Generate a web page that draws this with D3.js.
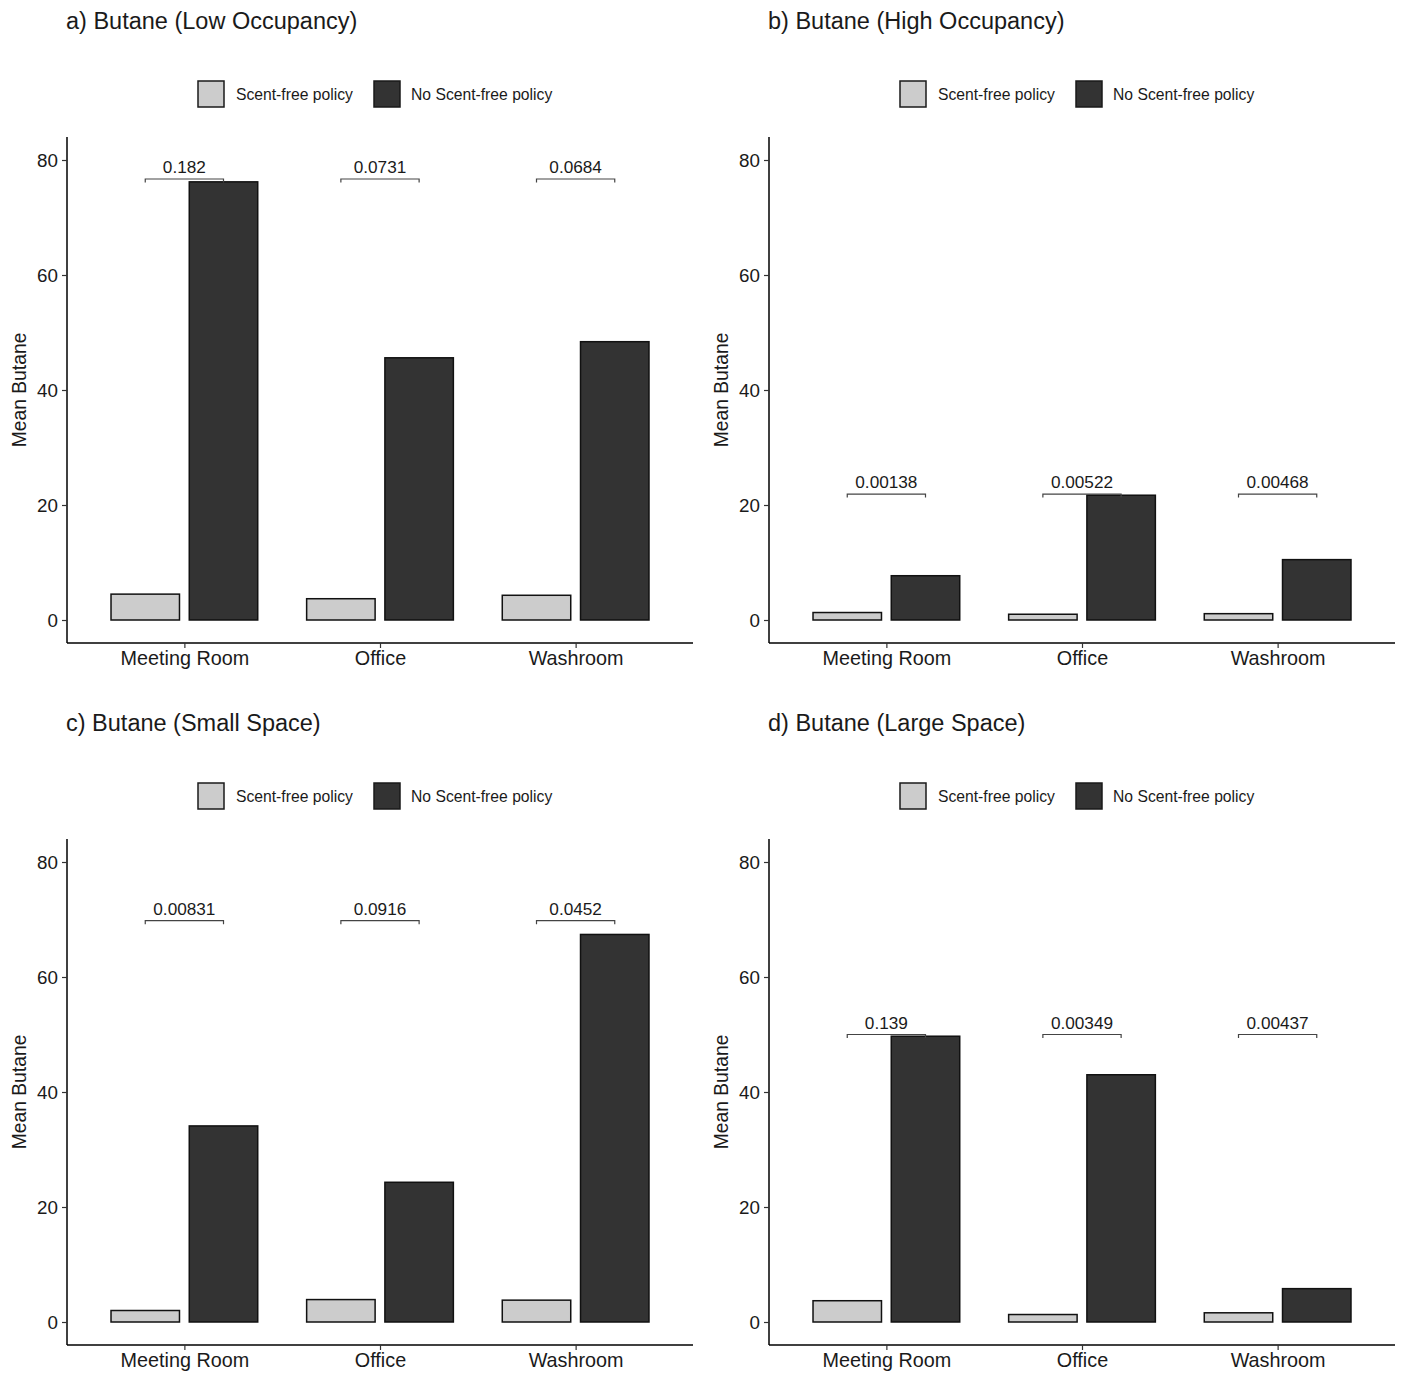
<!DOCTYPE html>
<html>
<head>
<meta charset="utf-8">
<script src="https://cdn.jsdelivr.net/npm/d3@7"></script>
<style>
  html, body { margin: 0; padding: 0; background: #fff; }
  svg { display: block; font-family: "Liberation Sans", Arial, sans-serif; }
</style>
</head>
<body>
<svg id="chart" width="1409" height="1385"></svg>
<script>
// ---- Data ----
const categories = ["Meeting Room", "Office", "Washroom"];
const groups = ["Scent-free policy", "No Scent-free policy"];
const panelTitles = [
  "a) Butane (Low Occupancy)",
  "b) Butane (High Occupancy)",
  "c) Butane (Small Space)",
  "d) Butane (Large Space)"
];
const scentFree = [
  [4.5, 3.7, 4.3],
  [1.3, 1.0, 1.1],
  [2.0, 3.9, 3.8],
  [3.7, 1.3, 1.6]
];
const noScentFree = [
  [76.2, 45.6, 48.4],
  [7.7, 21.7, 10.5],
  [34.1, 24.3, 67.4],
  [49.7, 43.0, 5.8]
];
const pValues = [
  ["0.182", "0.0731", "0.0684"],
  ["0.00138", "0.00522", "0.00468"],
  ["0.00831", "0.0916", "0.0452"],
  ["0.139", "0.00349", "0.00437"]
];
const bracketY = [76.7, 21.9, 69.8, 50.0];
const yTicks = [0, 20, 40, 60, 80];
const yLabel = "Mean Butane";

// ---- Layout ----
const fills = ["#cccccc", "#333333"];
const panelOffsets = [[0, 0], [702, 0], [0, 702], [702, 702]];
const plot = { left: 67, right: 693, top: 137, bottom: 643 };
const FONT = "Liberation Sans, Arial, sans-serif";

const svg = d3.select("#chart");

// ggplot-like discrete expansion: 0.6 units on each side
const unit = (plot.right - plot.left) / (categories.length - 1 + 1.2);
const xc = c => plot.left + unit * (0.6 + categories.indexOf(c));
const y = d3.scaleLinear().domain([-4, 84]).range([plot.bottom, plot.top]);

panelOffsets.forEach((off, p) => {
  const g = svg.append("g").attr("transform", `translate(${off[0]},${off[1]})`);

  // title
  g.append("text").attr("x", 66).attr("y", 29)
    .attr("font-size", 23.5).attr("fill", "#1a1a1a").text(panelTitles[p]);

  // legend
  const lg = g.append("g");
  const legItems = [{x: 198, tx: 236}, {x: 374, tx: 411}];
  groups.forEach((name, i) => {
    lg.append("rect").attr("x", legItems[i].x).attr("y", 81)
      .attr("width", 26).attr("height", 26)
      .attr("fill", fills[i]).attr("stroke", "#1a1a1a").attr("stroke-width", 1.5);
    lg.append("text").attr("x", legItems[i].tx).attr("y", 99.5)
      .attr("font-size", 15.7).attr("fill", "#1a1a1a").text(name);
  });

  // bars
  const bw = unit * 0.35;
  categories.forEach((c, ci) => {
    const vals = [scentFree[p][ci], noScentFree[p][ci]];
    vals.forEach((v, gi) => {
      const cx = xc(c) + (gi === 0 ? -0.2 : 0.2) * unit;
      g.append("rect")
        .attr("x", cx - bw / 2).attr("width", bw)
        .attr("y", y(v)).attr("height", y(0) - y(v))
        .attr("fill", fills[gi]).attr("stroke", "#111").attr("stroke-width", 1.5);
    });
    // significance bracket
    const x1 = xc(c) - 0.2 * unit, x2 = xc(c) + 0.2 * unit;
    const by = y(bracketY[p]);
    g.append("path")
      .attr("d", `M${x1},${by + 3.5}V${by}H${x2}V${by + 3.5}`)
      .attr("fill", "none").attr("stroke", "#444").attr("stroke-width", 1.2);
    g.append("text").attr("x", xc(c)).attr("y", by - 6)
      .attr("text-anchor", "middle").attr("font-size", 17.2).attr("fill", "#1a1a1a")
      .text(pValues[p][ci]);
  });

  // axes
  const yAxis = d3.axisLeft(y).tickValues(yTicks).tickSize(5).tickPadding(4);
  const ya = g.append("g").attr("transform", `translate(${plot.left},0)`).call(yAxis);
  ya.select(".domain").attr("d", `M0,${plot.top}V${plot.bottom}`).attr("stroke", "#000").attr("stroke-width", 1.5);
  ya.selectAll(".tick line").attr("stroke", "#333").attr("stroke-width", 1.2);
  ya.selectAll(".tick text").attr("font-size", 18.8).attr("fill", "#1a1a1a")
    .attr("font-family", FONT);

  const xScaleForAxis = d3.scalePoint().domain(categories)
    .range([xc(categories[0]), xc(categories[categories.length - 1])]);
  const xAxis = d3.axisBottom(xScaleForAxis).tickSize(5).tickPadding(3);
  const xa = g.append("g").attr("transform", `translate(0,${plot.bottom})`).call(xAxis);
  xa.select(".domain").attr("d", `M${plot.left},0H${plot.right}`).attr("stroke", "#000").attr("stroke-width", 1.5);
  xa.selectAll(".tick line").attr("stroke", "#333").attr("stroke-width", 1.2);
  xa.selectAll(".tick text").attr("font-size", 19.8).attr("fill", "#1a1a1a")
    .attr("font-family", FONT);

  // y axis title
  g.append("text")
    .attr("transform", `translate(26,${(plot.top + plot.bottom) / 2}) rotate(-90)`)
    .attr("text-anchor", "middle").attr("font-size", 19.3).attr("fill", "#1a1a1a")
    .text(yLabel);
});
</script>
</body>
</html>
